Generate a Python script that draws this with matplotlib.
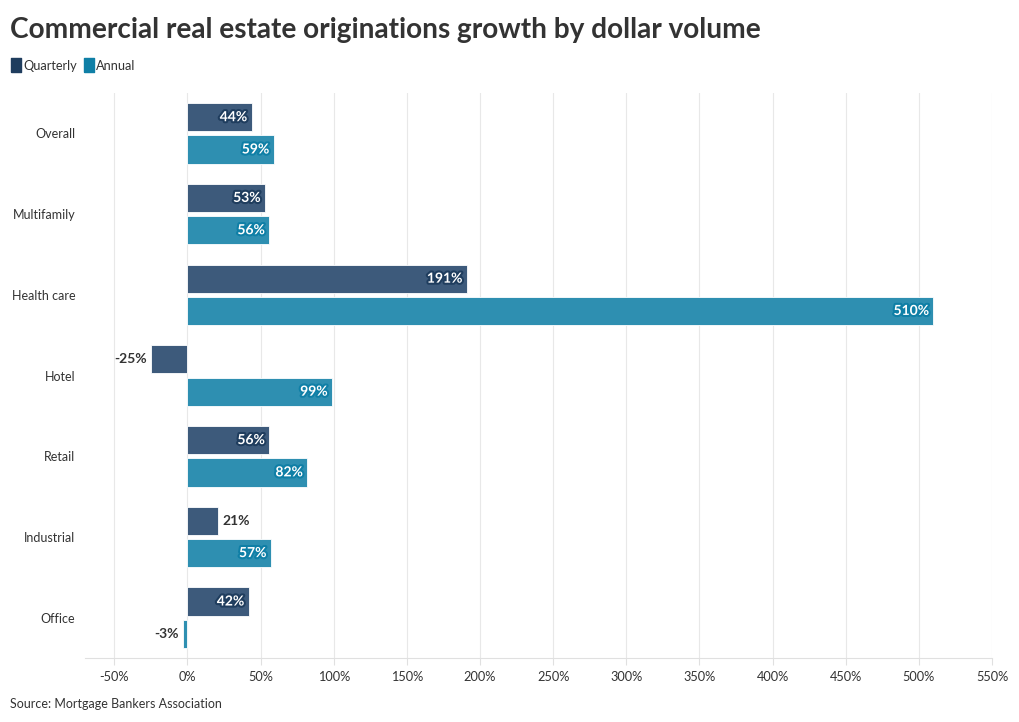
import numpy as np
from matplotlib import pyplot as plt
from matplotlib import patheffects as pe
from matplotlib.lines import Line2D

categories = ["Overall", "Multifamily", "Health care", "Hotel", "Retail", "Industrial", "Office"]
quarterly = [44, 53, 191, -25, 56, 21, 42]
annual = [59, 56, 510, 99, 82, 57, -3]
xticks = [-50, 0, 50, 100, 150, 200, 250, 300, 350, 400, 450, 500, 550]

plt.rcParams['font.family'] = ['Lato', 'DejaVu Sans']

q_color = "#3d5a7b"
a_color = "#2e8fb1"
q_dark = "#1f3d5e"
a_dark = "#0f7fa6"
text_color = "#333333"

fig = plt.figure(figsize=(10.2, 7.22), dpi=100)
ax = fig.add_axes([0.0833, 0.0886, 0.8892, 0.7826])

y = np.arange(len(categories))
h = 0.35
off = 0.2
bq = ax.barh(y - off, quarterly, height=h, color=q_color, edgecolor="#ffffff", linewidth=0.6, zorder=2)
ba = ax.barh(y + off, annual, height=h, color=a_color, edgecolor="#ffffff", linewidth=0.6, zorder=2)


def label_bars(bars, values, stroke):
    # labels go inside the bar end when there is room, otherwise outside
    for bar, v in zip(bars, values):
        yc = bar.get_y() + bar.get_height() / 2
        txt = f"{v}%"
        if abs(v) >= 30:
            ax.text(v - 3 if v > 0 else v + 3, yc, txt, ha="right" if v > 0 else "left", va="center",
                    color="white", fontsize=10, fontweight="bold", zorder=3,
                    path_effects=[pe.withStroke(linewidth=3, foreground=stroke)])
        else:
            ax.text(v + 3 if v > 0 else v - 3, yc, txt, ha="left" if v > 0 else "right", va="center",
                    color=text_color, fontsize=10, fontweight="bold", zorder=3)


label_bars(bq, quarterly, q_dark)
label_bars(ba, annual, a_dark)

ax.set_xlim(-70, 550)
ax.set_ylim(len(categories) - 0.5, -0.5)
ax.set_xticks(xticks)
ax.set_xticklabels([f"{t}%" for t in xticks])
ax.set_yticks(y)
ax.set_yticklabels(categories)
ax.grid(axis="x", color="#e8e8e8", linewidth=0.8, zorder=0)
for s in ["top", "right", "left"]:
    ax.spines[s].set_visible(False)
ax.spines["bottom"].set_color("#e0e0e0")
ax.tick_params(axis="x", colors="#e0e0e0", labelcolor=text_color, labelsize=9.2, length=5, pad=4)
ax.tick_params(axis="y", length=0, labelcolor=text_color, labelsize=9.0, pad=7)

fig.text(0.0098, 0.958, "Commercial real estate originations growth by dollar volume", fontsize=20.2,
         fontweight="bold", color=text_color, va="center", ha="left")

box = [(-0.4, -0.5), (0.4, -0.5), (0.4, 0.5), (-0.4, 0.5), (-0.4, -0.5)]
handles = [Line2D([], [], marker=box, linestyle="none", markersize=9.5, color=q_dark),
           Line2D([], [], marker=box, linestyle="none", markersize=9.5, color=a_dark)]
fig.legend(handles, ["Quarterly", "Annual"], loc="center left", bbox_to_anchor=(0.0, 0.909), ncol=2,
           frameon=False, fontsize=9.2, numpoints=1, handlelength=0.7, handletextpad=0.2,
           columnspacing=0.6, labelcolor=text_color)

fig.text(0.0098, 0.025, "Source: Mortgage Bankers Association", fontsize=9.0, color=text_color,
         va="center", ha="left")

fig.savefig("out.png", dpi=100)
